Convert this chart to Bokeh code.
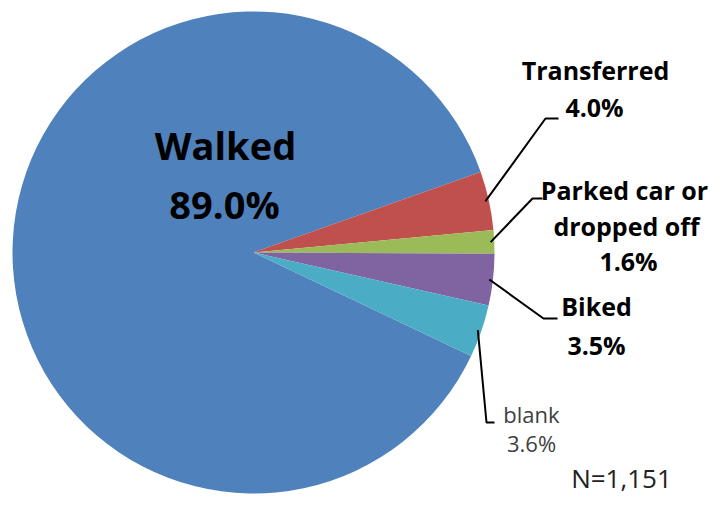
import math
from bokeh.plotting import figure
from bokeh.models import Range1d, ColumnDataSource
from bokeh.core.properties import value
from bokeh.embed import file_html
from bokeh.resources import INLINE

# ---- data ----
categories = ["Walked", "Transferred", "Parked car or\ndropped off", "Biked", "blank"]
percents = [89.0, 4.0, 1.6, 3.5, 3.6]
colors = ["#4F81BD", "#C0504D", "#9BBB59", "#8064A2", "#4BACC6"]
note = "N=1,151"

W, H = 708, 494
# data coords: x = pixel x, y = H - pixel y
p = figure(width=W, height=H, output_backend="svg", toolbar_location=None,
           x_range=Range1d(0, W), y_range=Range1d(0, H),
           min_border=0, outline_line_color=None)
p.axis.visible = False
p.grid.visible = False
p.background_fill_color = "white"

def Y(py):
    return H - py

cx, cy, r = 253, Y(252), 241
total = sum(percents)
walk_end = math.radians(19.5)  # first slice ends here, slices go clockwise
angles = [v / total * 2 * math.pi for v in percents]
starts, ends = [], []
a = walk_end + angles[0]
for ang in angles:
    starts.append(a)
    ends.append(a - ang)
    a -= ang

src = ColumnDataSource(dict(start=starts, end=ends, color=colors))
p.wedge(x=cx, y=cy, radius=r, start_angle="start", end_angle="end", direction="clock",
        fill_color="color", line_color=None, source=src)

FONT = value("Open Sans")
def txt(x, y, s, size, bold=True, color="black", align="center"):
    p.text(x=[x], y=[Y(y)], text=[s], text_font=FONT, text_font_size=f"{size}px",
           text_font_style="bold" if bold else "normal", text_color=color,
           text_align=align, text_baseline="middle")

def mid(i, rr):
    m = (starts[i] + ends[i]) / 2
    return cx + rr * math.cos(m), cy + rr * math.sin(m)

# Walked label inside
txt(225, 144, categories[0], 38)
txt(224, 203, f"{percents[0]:.1f}%", 38)

# leader lines (elbow points in pixel coords)
elbows = {1: ((545, 118), (558, 118)), 2: ((532, 198), (542, 198)),
          3: ((543, 318), (557, 318)), 4: ((486, 422), (494, 422))}
for i, ((ex, ey), (hx, hy)) in elbows.items():
    sx, sy = mid(i, r * 0.985)
    p.line(x=[sx, ex, hx], y=[sy, Y(ey), Y(hy)], line_color="black", line_width=2)

txt(595, 69, categories[1], 25)
txt(594, 106, f"{percents[1]:.1f}%", 25)
lines = categories[2].split("\n")
txt(624, 189, lines[0], 25)
txt(626, 225, lines[1], 25)
txt(628, 260, f"{percents[2]:.1f}%", 25)
txt(596, 305, categories[3], 25)
txt(596, 344, f"{percents[3]:.1f}%", 25)
txt(531, 413, categories[4], 22, bold=False, color="#404040")
txt(531, 442, f"{percents[4]:.1f}%", 22, bold=False, color="#404040")
txt(621, 477, note, 26, bold=False, color="#222222")

open("out.html", "w").write(file_html(p, INLINE))
